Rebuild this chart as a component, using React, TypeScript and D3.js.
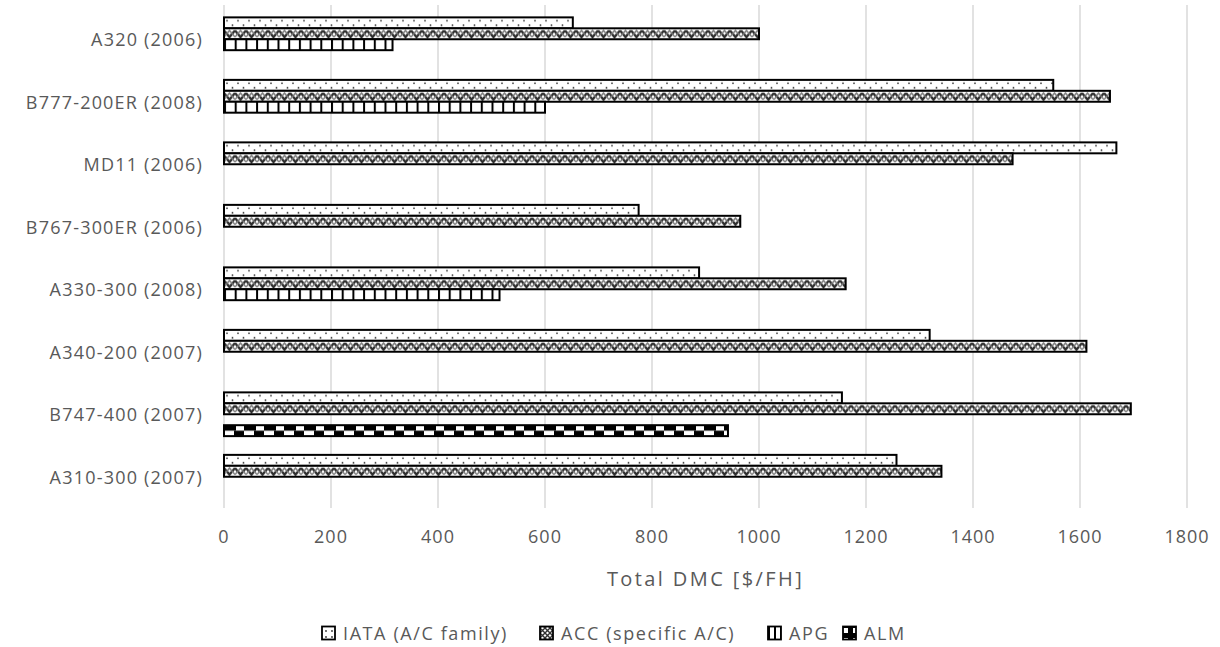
import React from "react";
import * as d3 from "d3";

const categories = [
  "A320 (2006)",
  "B777-200ER (2008)",
  "MD11 (2006)",
  "B767-300ER (2006)",
  "A330-300 (2008)",
  "A340-200 (2007)",
  "B747-400 (2007)",
  "A310-300 (2007)",
];
const seriesNames = ["IATA (A/C family)", "ACC (specific A/C)", "APG", "ALM"];
const iata = [652, 1550, 1668, 775, 888, 1319, 1155, 1257];
const acc = [1000, 1656, 1474, 965, 1162, 1612, 1695, 1341];
const apg = [315, 600, null, null, 515, null, null, null];
const alm = [null, null, null, null, null, null, 942, null];
const xTicks = [0, 200, 400, 600, 800, 1000, 1200, 1400, 1600, 1800];

const seriesValues = [iata, acc, apg, alm];
const patternIds = ["pDots", "pZig", "pGrid", "pCheck"];
const legendPatterns = ["lDots", "lZig", "lGrid", "lCheck"];

const W = 1220;
const H = 647;
const font = "'Open Sans', 'Noto Sans', sans-serif";
const textColor = "#595959";

const App: React.FC = () => {
  const x = d3.scaleLinear().domain([0, 1800]).range([224, 1187]);
  const y = d3
    .scaleBand<string>()
    .domain(categories)
    .range([8, 508])
    .paddingInner(0.3)
    .paddingOuter(0.15);
  const ySub = d3
    .scaleBand<number>()
    .domain([0, 1, 2, 3])
    .range([0, y.bandwidth()]);
  const bh = ySub.bandwidth();

  const legendX = [322, 540, 768, 843];

  return (
    <svg
      width={W}
      height={H}
      style={{ position: "absolute", left: 0, top: 0, background: "#fff" }}
    >
      <defs>
        <pattern id="pDots" patternUnits="userSpaceOnUse" width={11} height={bh}>
          <rect width={11} height={bh} fill="#fff" />
          <circle cx={3} cy={bh * 0.3} r={0.9} fill="#333" />
          <circle cx={8.5} cy={bh * 0.72} r={0.9} fill="#333" />
        </pattern>
        <pattern id="pZig" patternUnits="userSpaceOnUse" width={11} height={bh}>
          <rect width={11} height={bh} fill="#fff" />
          <path
            d={`M0,${bh * 0.2} L5.5,${bh * 0.8} L11,${bh * 0.2}`}
            stroke="#2e2e2e"
            strokeWidth={2.4}
            fill="none"
          />
          <path
            d={`M0,${bh * 0.8} L5.5,${bh * 0.2} L11,${bh * 0.8}`}
            stroke="#7a7a7a"
            strokeWidth={1.5}
            fill="none"
          />
        </pattern>
        <pattern id="pGrid" patternUnits="userSpaceOnUse" width={10.7} height={bh}>
          <rect width={10.7} height={bh} fill="#fff" />
          <rect x={0} width={2} height={bh} fill="#000" />
        </pattern>
        <pattern id="pCheck" patternUnits="userSpaceOnUse" width={20} height={bh}>
          <rect width={20} height={bh} fill="#fff" />
          <rect x={0} y={0} width={12} height={bh / 2} fill="#000" />
          <rect x={10} y={bh / 2} width={10} height={bh / 2} fill="#000" />
        </pattern>
        <pattern id="lDots" patternUnits="userSpaceOnUse" width={6} height={6}>
          <rect width={6} height={6} fill="#fff" />
          <circle cx={4} cy={4} r={0.9} fill="#333" />
        </pattern>
        <pattern id="lZig" patternUnits="userSpaceOnUse" width={5} height={5}>
          <rect width={5} height={5} fill="#fff" />
          <path d="M0,0 L5,5 M5,0 L0,5" stroke="#333" strokeWidth={1.4} />
        </pattern>
        <pattern id="lGrid" patternUnits="userSpaceOnUse" width={6} height={6}>
          <rect width={6} height={6} fill="#fff" />
          <rect x={0} width={2} height={6} fill="#000" />
        </pattern>
        <pattern id="lCheck" patternUnits="userSpaceOnUse" width={10} height={10}>
          <rect width={10} height={10} fill="#fff" />
          <rect x={0} y={0} width={10} height={5} fill="#000" />
          <rect x={5} y={5} width={5} height={5} fill="#000" />
        </pattern>
      </defs>

      {/* gridlines */}
      {xTicks.map((t) => (
        <line
          key={t}
          x1={x(t)}
          x2={x(t)}
          y1={5}
          y2={508}
          stroke="#d9d9d9"
          strokeWidth={1.5}
        />
      ))}

      {/* bars */}
      {categories.map((c, ci) => (
        <g key={c} transform={`translate(0,${y(c)})`}>
          {seriesValues.map((vals, si) => {
            const v = vals[ci];
            if (v == null) return null;
            return (
              <g key={si} transform={`translate(${x(0)},${ySub(si)})`}>
                <rect
                  x={0}
                  y={0}
                  width={x(v) - x(0)}
                  height={bh}
                  fill={`url(#${patternIds[si]})`}
                  stroke="#000"
                  strokeWidth={2}
                />
              </g>
            );
          })}
        </g>
      ))}

      {/* category labels */}
      {categories.map((c) => (
        <text
          key={c}
          x={203}
          y={(y(c) as number) + y.bandwidth() / 2}
          textAnchor="end"
          dominantBaseline="central"
          fontFamily={font}
          fontSize={18}
          letterSpacing={1.2}
          fill={textColor}
        >
          {c}
        </text>
      ))}

      {/* x tick labels */}
      {xTicks.map((t) => (
        <text
          key={t}
          x={x(t)}
          y={536}
          textAnchor="middle"
          dominantBaseline="central"
          fontFamily={font}
          fontSize={18}
          letterSpacing={1}
          fill={textColor}
        >
          {t}
        </text>
      ))}

      <text
        x={(x(0) + x(1800)) / 2}
        y={578}
        textAnchor="middle"
        dominantBaseline="central"
        fontFamily={font}
        fontSize={20}
        letterSpacing={2.4}
        fill={textColor}
      >
        Total DMC [$/FH]
      </text>

      {/* legend */}
      {seriesNames.map((s, i) => (
        <g key={s} transform={`translate(${legendX[i]},633)`}>
          <rect
            x={0}
            y={-6.5}
            width={13}
            height={13}
            fill={`url(#${legendPatterns[i]})`}
            stroke="#000"
            strokeWidth={1.8}
          />
          <text
            x={21}
            y={0}
            dominantBaseline="central"
            fontFamily={font}
            fontSize={18}
            letterSpacing={1.6}
            fill={textColor}
          >
            {s}
          </text>
        </g>
      ))}
    </svg>
  );
};

export default App;
